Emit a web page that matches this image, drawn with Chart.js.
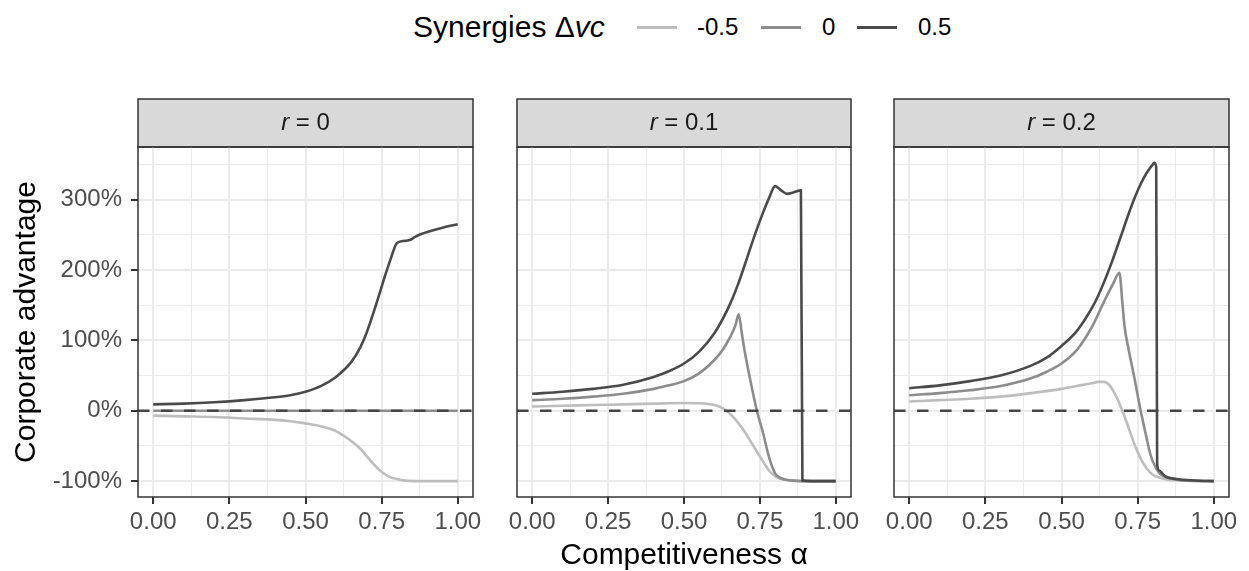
<!DOCTYPE html>
<html>
<head>
<meta charset="utf-8">
<script src="https://cdn.jsdelivr.net/npm/chart.js@4.4.1/dist/chart.umd.min.js"></script>
<style>
  body { margin: 0; background: #fff; width: 1249px; height: 571px; overflow: hidden; position: relative;
         font-family: "Liberation Sans", Arial, sans-serif; }
  canvas { position: absolute; top: 0; }
  .lg { position: absolute; white-space: nowrap; color: #000; }
  .lg-title { font-size: 30px; line-height: 30px; top: 12px; }
  .lg-text { font-size: 24px; line-height: 24px; top: 15px; }
  .lg-key { position: absolute; top: 26px; height: 3px; width: 40px; }
</style>
</head>
<body>

<div class="lg lg-title" style="left:413px">Synergies Δ<i>vc</i></div>
<span class="lg-key" id="k0" style="left:637px"></span>
<div class="lg lg-text" style="left:697px">-0.5</div>
<span class="lg-key" id="k1" style="left:761px"></span>
<div class="lg lg-text" style="left:822px">0</div>
<span class="lg-key" id="k2" style="left:857px"></span>
<div class="lg lg-text" style="left:918px">0.5</div>

<canvas id="p0" width="487" height="571" style="left:0px"></canvas>
<canvas id="p1" width="362" height="571" style="left:503px"></canvas>
<canvas id="p2" width="363" height="571" style="left:880px"></canvas>

<script>
// axis breaks
const xMajor = [0, 0.25, 0.5, 0.75, 1];
const xMinor = [0.125, 0.375, 0.625, 0.875];
const yMajor = [-100, 0, 100, 200, 300];
const yMinor = [-50, 50, 150, 250, 350];
const xRange = [-0.05, 1.05];
const yRange = [-122.6, 374.6];
const zeroLevel = 0;

const rLabels = ['0', '0.1', '0.2'];
const synergyLevels = ['-0.5', '0', '0.5'];
const synergyColors = ['#bdbdbd', '#8c8c8c', '#4a4a4a'];

// r = 0
const r0NegAlpha = [0, 0.1, 0.2, 0.3, 0.4, 0.45, 0.5, 0.55, 0.6, 0.65, 0.68, 0.7, 0.72, 0.74, 0.76, 0.78, 0.8, 0.82, 0.86, 0.9, 1];
const r0Neg = [-7, -8, -9, -11, -13, -15, -18, -22, -29, -43, -54, -64, -74, -83, -90, -95, -97, -99, -100, -100, -100];
const r0MidAlpha = [0, 1];
const r0Mid = [0, 0];
const r0PosAlpha = [0, 0.1, 0.2, 0.3, 0.4, 0.45, 0.5, 0.55, 0.6, 0.65, 0.68, 0.7, 0.72, 0.74, 0.76, 0.78, 0.8, 0.82, 0.84, 0.86, 0.88, 0.9, 0.95, 1];
const r0Pos = [9, 10, 12, 15, 19, 22, 27, 35, 48, 69, 90, 110, 135, 162, 190, 216, 238, 241, 242, 247, 251, 254, 260, 265];

// r = 0.1
const r1NegAlpha = [0, 0.1, 0.2, 0.3, 0.4, 0.5, 0.55, 0.58, 0.6, 0.62, 0.64, 0.66, 0.68, 0.7, 0.72, 0.74, 0.76, 0.78, 0.8, 0.82, 0.85, 0.9, 1];
const r1Neg = [6, 7, 8, 9, 10, 11, 10.5, 9.5, 8, 5, 0, -8, -18, -30, -44, -58, -72, -85, -93, -97, -99, -100, -100];
const r1MidAlpha = [0, 0.1, 0.2, 0.3, 0.4, 0.45, 0.5, 0.55, 0.6, 0.63, 0.65, 0.67, 0.68, 0.69, 0.7, 0.72, 0.74, 0.76, 0.78, 0.8, 0.82, 0.85, 0.9, 1];
const r1Mid = [15, 17, 20, 24, 31, 36, 42, 53, 72, 88, 103, 122, 137, 111, 84, 40, 0, -31, -66, -89, -96, -99, -100, -100];
const r1PosAlpha = [0, 0.1, 0.2, 0.3, 0.4, 0.45, 0.5, 0.55, 0.6, 0.65, 0.68, 0.7, 0.72, 0.74, 0.76, 0.78, 0.8, 0.82, 0.84, 0.86, 0.885, 0.89, 0.92, 0.96, 1];
const r1Pos = [24, 27, 31, 37, 48, 56, 67, 84, 110, 150, 182, 207, 233, 258, 281, 302, 319, 313, 308, 310, 313, -99, -100, -100, -100];

// r = 0.2
const r2NegAlpha = [0, 0.1, 0.2, 0.3, 0.4, 0.5, 0.55, 0.6, 0.62, 0.64, 0.66, 0.68, 0.7, 0.72, 0.74, 0.76, 0.78, 0.8, 0.82, 0.85, 0.9, 1];
const r2Neg = [13, 15, 17, 20, 25, 31, 35, 39, 41, 41, 35, 20, 0, -24, -48, -68, -82, -91, -95, -98, -99, -100];
const r2MidAlpha = [0, 0.1, 0.2, 0.3, 0.4, 0.45, 0.5, 0.55, 0.6, 0.63, 0.65, 0.67, 0.69, 0.7, 0.707, 0.72, 0.74, 0.76, 0.78, 0.79, 0.8, 0.82, 0.84, 0.87, 0.9, 1];
const r2Mid = [22, 25, 29, 35, 46, 55, 67, 86, 119, 146, 164, 181, 196, 153, 120, 88, 45, 0, -40, -59, -72, -88, -94, -97, -99, -100];
const r2PosAlpha = [0, 0.1, 0.2, 0.3, 0.4, 0.45, 0.5, 0.55, 0.6, 0.62, 0.64, 0.66, 0.68, 0.7, 0.72, 0.74, 0.76, 0.78, 0.8, 0.805, 0.811, 0.814, 0.82, 0.84, 0.86, 0.9, 0.95, 1];
const r2Pos = [32, 36, 42, 50, 64, 75, 92, 113, 146, 163, 183, 205, 229, 254, 279, 302, 322, 338, 350, 352, 346, -75, -85, -93, -96, -98, -99.5, -100];

const panelSeries = [
  [[r0NegAlpha, r0Neg], [r0MidAlpha, r0Mid], [r0PosAlpha, r0Pos]],
  [[r1NegAlpha, r1Neg], [r1MidAlpha, r1Mid], [r1PosAlpha, r1Pos]],
  [[r2NegAlpha, r2Neg], [r2MidAlpha, r2Mid], [r2PosAlpha, r2Pos]]
];

synergyColors.forEach((c, i) => { document.getElementById('k' + i).style.background = c; });

const FONT = '"Liberation Sans", Arial, sans-serif';
const xTicks = xMajor.concat(xMinor).sort((a, b) => a - b);
const yTicks = yMajor.concat(yMinor).sort((a, b) => a - b);

function toPoints(xs, ys) {
  return xs.map((x, i) => ({ x: x, y: ys[i] }));
}

// strip on top of each panel + full panel border
const facetPlugin = {
  id: 'facet',
  beforeDraw(chart, args, opts) {
    const a = chart.chartArea, ctx = chart.ctx;
    ctx.save();
    ctx.fillStyle = '#d9d9d9';
    ctx.fillRect(a.left, 99, a.right - a.left, a.top - 99);
    ctx.strokeStyle = '#333';
    ctx.lineWidth = 1.5;
    ctx.strokeRect(a.left, 99, a.right - a.left, a.top - 99);
    const cx = (a.left + a.right) / 2, cy = (99 + a.top) / 2;
    ctx.fillStyle = '#1a1a1a';
    ctx.textBaseline = 'middle';
    ctx.font = 'italic 24px ' + FONT;
    const w1 = ctx.measureText('r').width;
    ctx.font = '24px ' + FONT;
    const rest = ' = ' + opts.r;
    const w2 = ctx.measureText(rest).width;
    let x0 = cx - (w1 + w2) / 2;
    ctx.font = 'italic 24px ' + FONT;
    ctx.fillText('r', x0, cy);
    ctx.font = '24px ' + FONT;
    ctx.fillText(rest, x0 + w1, cy);
    ctx.restore();
  },
  afterDatasetsDraw(chart) {
    const a = chart.chartArea, ctx = chart.ctx;
    ctx.save();
    ctx.strokeStyle = '#333';
    ctx.lineWidth = 1.5;
    ctx.strokeRect(a.left, a.top, a.right - a.left, a.bottom - a.top);
    ctx.restore();
  }
};

function makePanel(idx) {
  const first = idx === 0;
  const datasets = [{
    data: [{ x: xRange[0], y: zeroLevel }, { x: xRange[1], y: zeroLevel }],
    borderColor: '#454545', borderWidth: 2.6, borderDash: [11.5, 11.5], pointRadius: 0
  }];
  for (let s = 2; s >= 0; s--) {
    const [xs, ys] = panelSeries[idx][s];
    datasets.push({
      label: synergyLevels[s],
      data: toPoints(xs, ys),
      borderColor: synergyColors[s],
      borderWidth: 2.6,
      pointRadius: 0,
      cubicInterpolationMode: 'monotone'
    });
  }
  const pad = first ? { top: 147, left: 0, right: 14, bottom: 0 } : { top: 147, left: 14, right: 14, bottom: 0 };
  return new Chart(document.getElementById('p' + idx), {
    type: 'line',
    data: { datasets: datasets },
    plugins: [facetPlugin],
    options: {
      responsive: false,
      animation: false,
      events: [],
      layout: { padding: pad },
      plugins: { legend: { display: false }, tooltip: { enabled: false }, facet: { r: rLabels[idx] } },
      scales: {
        x: {
          type: 'linear', min: xRange[0], max: xRange[1],
          afterBuildTicks: s => { s.ticks = xTicks.map(v => ({ value: v })); },
          afterFit: s => { s.height = 74; s.paddingLeft = 0; s.paddingRight = 0; },
          border: { display: false },
          grid: {
            color: '#ebebeb',
            lineWidth: c => (c.tick && xMajor.includes(c.tick.value)) ? 2 : 1,
            tickLength: 7,
            tickWidth: 2,
            tickColor: c => (c.tick && xMajor.includes(c.tick.value)) ? '#333' : 'rgba(0,0,0,0)'
          },
          ticks: {
            autoSkip: false, maxRotation: 0, padding: 4, color: '#4d4d4d',
            font: { family: FONT, size: 24 },
            callback: v => xMajor.includes(v) ? v.toFixed(2) : ''
          },
          title: {
            display: idx === 1, text: 'Competitiveness α', color: '#000',
            font: { family: FONT, size: 30, lineHeight: 1 }, padding: { top: 0, bottom: 0 }
          }
        },
        y: {
          type: 'linear', min: yRange[0], max: yRange[1],
          afterBuildTicks: s => { s.ticks = yTicks.map(v => ({ value: v })); },
          afterFit: s => { s.width = first ? 138 : 0; s.paddingTop = 0; s.paddingBottom = 0; },
          border: { display: false },
          grid: {
            color: '#ebebeb',
            lineWidth: c => (c.tick && yMajor.includes(c.tick.value)) ? 2 : 1,
            drawTicks: first,
            tickLength: 7,
            tickWidth: 2,
            tickColor: c => (c.tick && yMajor.includes(c.tick.value)) ? '#333' : 'rgba(0,0,0,0)'
          },
          ticks: {
            display: first, padding: 9, color: '#4d4d4d',
            font: { family: FONT, size: 24 },
            callback: v => yMajor.includes(v) ? v + '%' : ''
          },
          title: {
            display: first, text: 'Corporate advantage', color: '#000',
            font: { family: FONT, size: 30 }, padding: { top: 9, bottom: 0 }
          }
        }
      }
    }
  });
}

[0, 1, 2].forEach(makePanel);
</script>
</body>
</html>
